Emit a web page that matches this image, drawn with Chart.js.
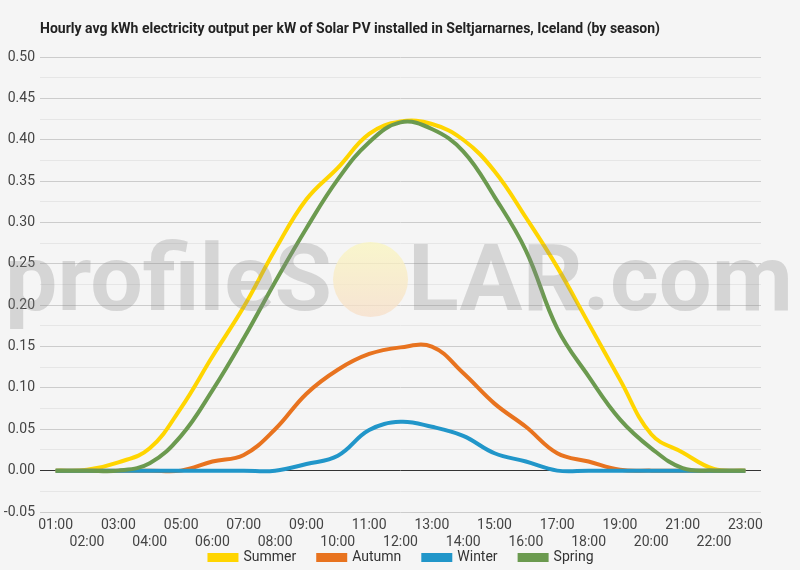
<!DOCTYPE html>
<html>
<head>
<meta charset="utf-8">
<script src="https://cdn.jsdelivr.net/npm/chart.js@4.4.1/dist/chart.umd.min.js"></script>
<style>
  html, body { margin: 0; padding: 0; background: #f5f5f5; }
  #wrap { width: 800px; height: 570px; }
</style>
</head>
<body>
<div id="wrap"><canvas id="c" width="800" height="570"></canvas></div>
<script>
const TITLE = 'Hourly avg kWh electricity output per kW of Solar PV installed in Seltjarnarnes, Iceland (by season)';
const hours = ['01:00','02:00','03:00','04:00','05:00','06:00','07:00','08:00','09:00','10:00','11:00','12:00',
               '13:00','14:00','15:00','16:00','17:00','18:00','19:00','20:00','21:00','22:00','23:00'];
const seriesNames = ['Summer', 'Autumn', 'Winter', 'Spring'];
const summer = [0, 0.001, 0.010, 0.027, 0.076, 0.138, 0.198, 0.267, 0.328, 0.366, 0.407, 0.422,
                0.419, 0.400, 0.362, 0.306, 0.246, 0.178, 0.110, 0.044, 0.022, 0.002, 0];
const autumn = [0, 0, 0, 0, 0, 0.011, 0.019, 0.050, 0.093, 0.122, 0.141, 0.149,
                0.150, 0.118, 0.081, 0.053, 0.021, 0.011, 0.001, 0, 0, 0, 0];
const winter = [0, 0, 0, 0, 0, 0, 0, 0, 0.008, 0.018, 0.049, 0.059,
                0.053, 0.042, 0.021, 0.011, 0, 0, 0, 0, 0, 0, 0];
const spring = [0, 0, 0, 0.009, 0.042, 0.097, 0.160, 0.228, 0.293, 0.352, 0.397, 0.421,
                0.413, 0.386, 0.331, 0.266, 0.172, 0.114, 0.062, 0.027, 0.003, 0, 0];
const yMin = -0.05, yMax = 0.5, yStep = 0.025;

const colors = ['#FFD500', '#E8731F', '#2196C9', '#6B9A4F'];
const values = [summer, autumn, winter, spring];

const bgPlugin = {
  id: 'bg',
  afterLayout(chart) {
    const l = chart.legend;
    if (l) {
      l.left = 21; l.right = 782;
      l.top = 528.5; l.bottom = 570;
    }
  },
  beforeDraw(chart) {
    const ctx = chart.ctx;
    ctx.save();
    ctx.fillStyle = '#f5f5f5';
    ctx.fillRect(0, 0, chart.width, chart.height);
    ctx.restore();
  },
  afterDraw(chart) {
    const ctx = chart.ctx;
    // title
    ctx.save();
    ctx.font = 'bold 14px Roboto';
    ctx.fillStyle = '#222';
    ctx.textBaseline = 'alphabetic';
    const tw = ctx.measureText(TITLE).width;
    ctx.translate(40, 33);
    ctx.scale(620 / tw, 1);
    ctx.fillText(TITLE, 0, 0);
    ctx.restore();
    // watermark
    ctx.save();
    ctx.font = 'bold 92px Roboto';
    ctx.fillStyle = 'rgba(140,140,140,0.3)';
    ctx.textBaseline = 'alphabetic';
    let w1 = ctx.measureText('profileS').width;
    ctx.save();
    ctx.translate(5, 310);
    ctx.scale(327 / w1, 1);
    ctx.fillText('profileS', 0, 0);
    ctx.restore();
    let w2 = ctx.measureText('LAR.com').width;
    ctx.save();
    ctx.translate(408, 310);
    ctx.scale(385 / w2, 1);
    ctx.fillText('LAR.com', 0, 0);
    ctx.restore();
    const g = ctx.createLinearGradient(0, 242, 0, 317);
    g.addColorStop(0, 'rgba(250,246,190,0.75)');
    g.addColorStop(1, 'rgba(247,222,200,0.75)');
    ctx.fillStyle = g;
    ctx.beginPath();
    ctx.arc(370.5, 279.5, 37.5, 0, Math.PI * 2);
    ctx.fill();
    ctx.restore();
  }
};

new Chart(document.getElementById('c'), {
  type: 'line',
  data: {
    labels: hours,
    datasets: seriesNames.map((n, i) => ({
      label: n,
      data: values[i],
      borderColor: colors[i],
      backgroundColor: colors[i],
      borderWidth: 4,
      pointRadius: 0,
      tension: 0.4,
      fill: false,
      order: 4 - i
    }))
  },
  options: {
    responsive: false,
    animation: false,
    layout: { padding: { top: 57, right: 39, left: 0, bottom: 0 } },
    plugins: {
      title: { display: false },
      tooltip: { enabled: false },
      legend: {
        position: 'bottom',
        maxHeight: 20,
        labels: {
          boxWidth: 27,
          boxHeight: 5,
          padding: 22,
          color: '#333',
          font: { family: 'Roboto', size: 14 },
          sort: (a, b) => a.datasetIndex - b.datasetIndex
        }
      }
    },
    scales: {
      x: {
        offset: true,
        grid: { display: false, drawTicks: false },
        border: { display: false },
        ticks: {
          autoSkip: false,
          maxRotation: 0,
          padding: 5,
          color: '#444',
          font: { family: 'Roboto', size: 14 },
          callback: function(v, i) {
            const l = hours[i];
            return i % 2 === 0 ? [l] : ['', l];
          }
        },
        afterFit: (s) => { s.height = 38; }
      },
      y: {
        min: yMin,
        max: yMax,
        grid: {
          drawTicks: false,
          lineWidth: 1,
          color: (ctx) => {
            const v = Math.round((ctx.tick ? ctx.tick.value : 0) * 1000);
            if (v === 0) return '#333333';
            return (v % 50 === 0) ? '#cccccc' : '#e6e6e6';
          }
        },
        border: { display: false },
        ticks: {
          stepSize: yStep,
          padding: 5,
          color: '#444',
          font: { family: 'Roboto', size: 14 },
          callback: (v) => {
            const m = Math.round(v * 1000);
            return (m % 50 === 0) ? (m / 1000).toFixed(2) : '';
          }
        },
        afterFit: (s) => { s.width = 40; }
      }
    }
  },
  plugins: [bgPlugin]
});
</script>
</body>
</html>
